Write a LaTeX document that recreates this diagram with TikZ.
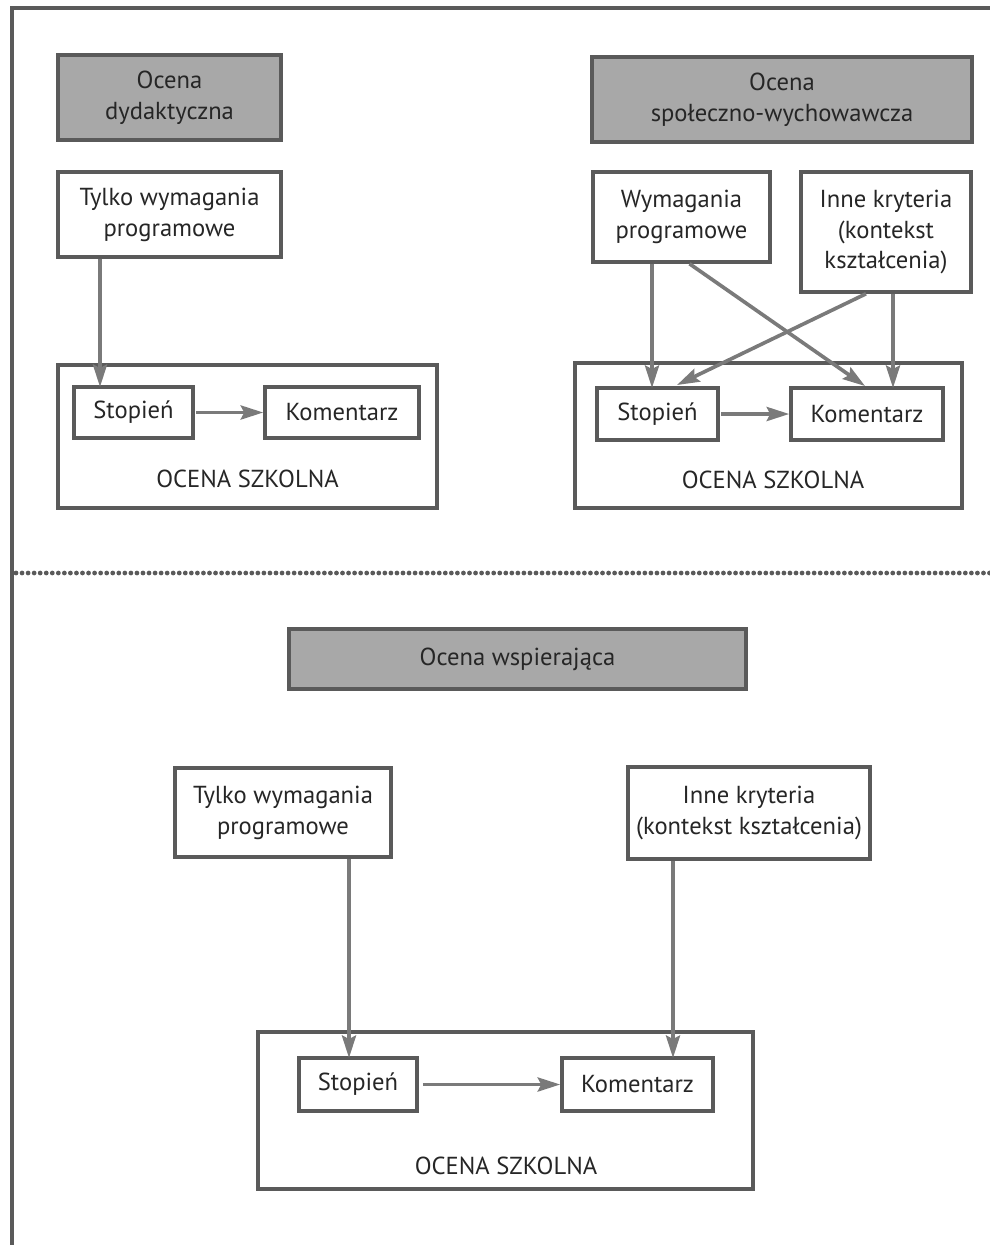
\documentclass[tikz,border=0pt]{standalone}
\usepackage{fontspec}
\setmainfont{PT Sans}
\usetikzlibrary{arrows.meta}
\definecolor{rama}{HTML}{5A5A5A}
\definecolor{strz}{HTML}{7A7A7A}
\definecolor{szary}{HTML}{A8A8A8}
\begin{document}
\begin{tikzpicture}[x=0.025cm,y=-0.025cm,
    box/.style={draw=rama,line width=2.5pt,fill=white,align=center,inner sep=0pt,
      font=\fontsize{17.5}{22}\selectfont,text=black!85},
    greybox/.style={box,fill=szary},
    outerbox/.style={draw=rama,line width=2.5pt,inner sep=0pt},
    napis/.style={font=\fontsize{17.5}{22}\selectfont,text=black!85},
    strzalka/.style={draw=strz,line width=2.6pt,-{Stealth[length=16pt,width=10pt,inset=2.5pt]}}]
      \useasboundingbox (0,0) rectangle (990,1245);
      % ramka i linia kropkowana
      \draw[rama,line width=2.5pt] (12,1245) -- (12,8) -- (990,8);
      \draw[rama,line width=3.4pt,line cap=round,dash pattern=on 0pt off 4.3pt]
        (16,573) -- (990,573);
      % ocena dydaktyczna
      \draw
        (247.5,436.5) node[outerbox,minimum width=9.475cm,minimum height=3.575cm] (szk1){}
        (169.5,97.5) node[greybox,minimum width=5.575cm,minimum height=2.125cm] (dyd1){Ocena\\dydaktyczna}
        (169.5,214.5) node[box,minimum width=5.575cm,minimum height=2.125cm] (tylko1){Tylko wymagania\\programowe}
        (133.5,412.5) node[box,minimum width=2.975cm,minimum height=1.275cm] (stop1){Stopień}
        (342,412.5) node[box,minimum width=3.85cm,minimum height=1.275cm] (kom1){Komentarz}
        (247.5,479) node[napis] (txt1){OCENA SZKOLNA};
      \coordinate (a1) at (100,387);
      % ocena spoleczno-wychowawcza
      \draw
        (768.5,435.5) node[outerbox,minimum width=9.675cm,minimum height=3.625cm] (szk2){}
        (782,99.5) node[greybox,minimum width=9.5cm,minimum height=2.125cm] (spol2){Ocena\\społeczno-wychowawcza}
        (681.5,217) node[box,minimum width=4.425cm,minimum height=2.25cm] (wym2){Wymagania\\programowe}
        (886,232) node[box,minimum width=4.25cm,minimum height=3cm] (inne2){Inne kryteria\\(kontekst\\kształcenia)}
        (657.5,414) node[box,minimum width=3.025cm,minimum height=1.3cm] (stop2){Stopień}
        (867,414) node[box,minimum width=3.8cm,minimum height=1.3cm] (kom2){Komentarz}
        (773,480) node[napis] (txt2){OCENA SZKOLNA};
      \coordinate (a2) at (652,388);
      \coordinate (b2) at (677,385);
      \coordinate (c2) at (865,386);
      \coordinate (d2) at (893,388);
      % ocena wspierajaca
      \draw
        (505.5,1110.5) node[outerbox,minimum width=12.375cm,minimum height=3.925cm] (szk3){}
        (517.5,659) node[greybox,minimum width=11.425cm,minimum height=1.5cm] (wsp3){Ocena wspierająca}
        (283,812.5) node[box,minimum width=5.4cm,minimum height=2.225cm] (tylko3){Tylko wymagania\\programowe}
        (749,813) node[box,minimum width=6.05cm,minimum height=2.3cm] (inne3){Inne kryteria\\(kontekst kształcenia)}
        (358,1084.5) node[box,minimum width=2.95cm,minimum height=1.325cm] (stop3){Stopień}
        (637.5,1084.5) node[box,minimum width=3.775cm,minimum height=1.325cm] (kom3){Komentarz}
        (506,1166) node[napis] (txt3){OCENA SZKOLNA};
      \coordinate (a3) at (349,1058);
      \coordinate (b3) at (673,1058);
      \begin{scope}[strzalka]
        \draw (a1 |- tylko1.south) to (a1);
        \draw ([xshift=1pt]stop1.east) to (kom1.west);
        \draw (a2 |- wym2.south) to (a2);
        \draw ([xshift=0.2cm]wym2.south) to (c2);
        \draw ([xshift=-0.5cm]inne2.south) to (b2);
        \draw (d2 |- inne2.south) to (d2);
        \draw ([xshift=1pt]stop2.east) to (kom2.west);
        \draw (a3 |- tylko3.south) to (a3);
        \draw (b3 |- inne3.south) to (b3);
        \draw ([xshift=3pt]stop3.east) to (kom3.west);
      \end{scope}
    \end{tikzpicture}
\end{document}
